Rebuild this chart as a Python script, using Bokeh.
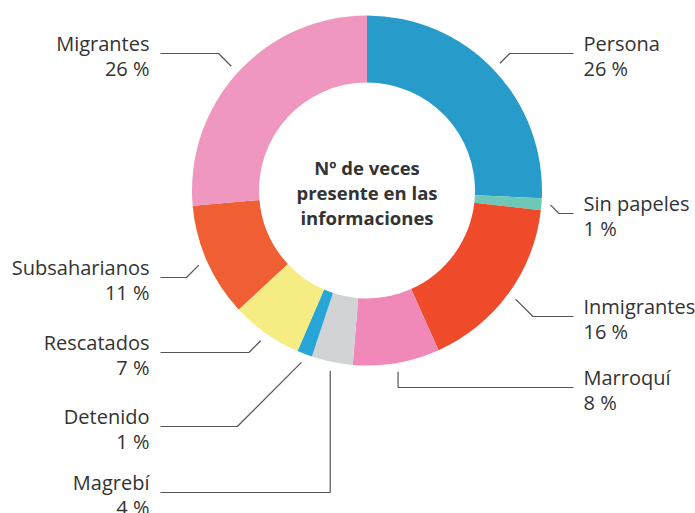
import math
from bokeh.plotting import figure
from bokeh.models import Range1d, ColumnDataSource
from bokeh.core.properties import value
from bokeh.embed import file_html
from bokeh.resources import INLINE

# ---- data ----
categories = ["Persona", "Sin papeles", "Inmigrantes", "Marroquí", "Magrebí",
              "Detenido", "Rescatados", "Subsaharianos", "Migrantes"]
shares = [25.7, 1.1, 16.5, 8.0, 3.8, 1.4, 6.6, 10.5, 26.4]      # wedge sizes
shown_pct = [26, 1, 16, 8, 4, 1, 7, 11, 26]                      # printed labels
colors = ["#279CCB", "#6DC8B8", "#EF4B2B", "#F089B8", "#D2D3D5",
          "#27A5D6", "#F5EC84", "#F05E34", "#F097BF"]
center_title = ["Nº de veces", "presente en las", "informaciones"]

# ---- layout (pixel space of page) ----
W, H = 695, 513
CX, CY = 366.5, 190.0
R_OUT, R_IN = 175.0, 108.0
R_LEAD = 184.0
label_line_y = [53, 213, 316, 387, 492, 426, 352, 277, 53]
label_side = ["r", "r", "r", "r", "l", "l", "l", "l", "l"]
lead_style = ["diag", "diag", "diag", "vert", "vert", "diag", "diag", "diag", "diag"]
X_RIGHT_END, X_LEFT_END = 573, 160
X_RIGHT_TXT, X_LEFT_TXT = 583, 149

TXT = "#333333"
FONT = "Open Sans"

p = figure(width=W, height=H, output_backend="svg", toolbar_location=None,
           x_range=Range1d(0, W), y_range=Range1d(-H, 0),
           min_border=0, outline_line_color=None, background_fill_color="white",
           border_fill_color="white")
p.axis.visible = False
p.grid.visible = False

total = sum(shares)
starts, ends, mids = [], [], []
acc = 0.0
for s in shares:
    a0 = acc / total * 2 * math.pi
    acc += s
    a1 = acc / total * 2 * math.pi
    starts.append(math.pi / 2 - a0)
    ends.append(math.pi / 2 - a1)
    mids.append((a0 + a1) / 2)

src = ColumnDataSource(dict(start=starts, end=ends, color=colors))
p.annular_wedge(x=CX, y=-CY, inner_radius=R_IN, outer_radius=R_OUT,
                start_angle="start", end_angle="end", direction="clock",
                color="color", line_color=None, source=src)

# leader lines
xs, ys = [], []
for m, ly, side, st in zip(mids, label_line_y, label_side, lead_style):
    sx = CX + R_LEAD * math.sin(m)
    sy = CY - R_LEAD * math.cos(m)
    endx = X_RIGHT_END if side == "r" else X_LEFT_END
    if st == "vert":
        ex, ey = sx, ly
    else:
        d = abs(ly - sy)
        ex = sx + d if side == "r" else sx - d
        ey = ly
    xs.append([sx, ex, endx])
    ys.append([-sy, -ey, -ly])
p.multi_line(xs=xs, ys=ys, line_color="#555555", line_width=1.2)

# labels
for name, pct, ly, side in zip(categories, shown_pct, label_line_y, label_side):
    tx = X_RIGHT_TXT if side == "r" else X_LEFT_TXT
    align = "left" if side == "r" else "right"
    p.text(x=[tx, tx], y=[-(ly - 10), -(ly + 15)], text=[name, f"{pct} %"],
           text_font=value(FONT), text_font_size="20px", text_color=TXT,
           text_align=align, text_baseline="middle")

# center text
p.text(x=[CX] * 3, y=[-167, -192, -217], text=center_title,
       text_font=value(FONT), text_font_size="18.5px", text_font_style="bold",
       text_color=TXT, text_align="center", text_baseline="middle")

open("out.html", "w").write(file_html(p, INLINE))
